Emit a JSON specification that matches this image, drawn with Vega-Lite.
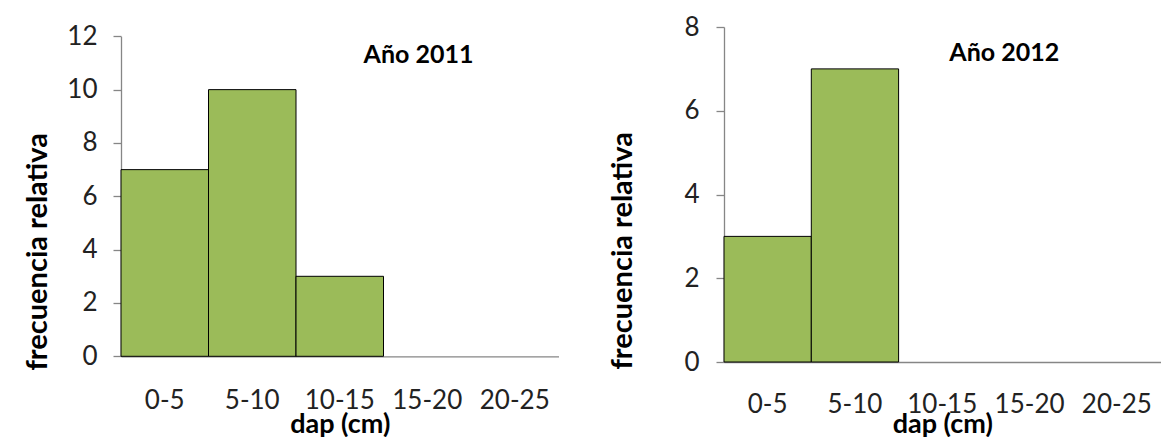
{
  "$schema": "https://vega.github.io/schema/vega-lite/v6.json",
  "background": "white",
  "padding": {"left": 23, "top": 14, "right": 5, "bottom": 0},
  "datasets": {
    "y2011": [
      {"dap": "0-5", "frecuencia": 7},
      {"dap": "5-10", "frecuencia": 10},
      {"dap": "10-15", "frecuencia": 3},
      {"dap": "15-20", "frecuencia": 0},
      {"dap": "20-25", "frecuencia": 0}
    ],
    "y2012": [
      {"dap": "0-5", "frecuencia": 3},
      {"dap": "5-10", "frecuencia": 7},
      {"dap": "10-15", "frecuencia": 0},
      {"dap": "15-20", "frecuencia": 0},
      {"dap": "20-25", "frecuencia": 0}
    ]
  },
  "config": {
    "font": "Lato",
    "view": {"stroke": null},
    "axis": {
      "grid": false,
      "domainColor": "#868686",
      "domainWidth": 1.3,
      "tickColor": "#868686",
      "tickWidth": 1.3,
      "labelColor": "#222222",
      "labelFont": "Lato",
      "labelFontSize": 26,
      "titleColor": "#000000",
      "titleFont": "Lato",
      "titleFontWeight": "bold"
    },
    "axisX": {"titleFontSize": 27},
    "axisY": {"titleFontSize": 29},
    "concat": {"spacing": 49}
  },
  "align": "none",
  "hconcat": [
    {
      "width": 437.5,
      "height": 329.3,
      "layer": [
        {
          "data": {"name": "y2011"},
          "mark": {"type": "bar", "fill": "#9BBB59", "stroke": "#000000", "strokeWidth": 1},
          "encoding": {
            "x": {
              "field": "dap",
              "type": "nominal",
              "sort": null,
              "scale": {"domain": ["0-5", "5-10", "10-15", "15-20", "20-25"], "paddingInner": 0, "paddingOuter": 0},
              "axis": {
                "title": "dap (cm)",
                "labelAngle": 0,
                "ticks": false,
                "tickSize": 0,
                "labelPadding": 52,
                "labelBaseline": "alphabetic",
                "titleY": 75.7,
                "titleBaseline": "alphabetic"
              }
            },
            "y": {
              "field": "frecuencia",
              "type": "quantitative",
              "scale": {"domain": [0, 12], "range": [329.3, 9.3], "nice": false},
              "axis": {
                "values": [0, 2, 4, 6, 8, 10, 12],
                "title": "frecuencia relativa",
                "tickSize": 8,
                "labelPadding": 16,
                "titleAngle": 270,
                "titleAlign": "center",
                "titleBaseline": "alphabetic",
                "titleX": -74.7,
                "titleY": 224.3
              }
            },
            "strokeOpacity": {"condition": {"test": "datum.frecuencia > 0", "value": 1}, "value": 0}
          }
        },
        {
          "data": {"values": [{"titulo": "Año 2011"}]},
          "mark": {"type": "text", "fontWeight": "bold", "fontSize": 25, "align": "center", "baseline": "alphabetic", "color": "#000000"},
          "encoding": {
            "text": {"field": "titulo"},
            "x": {"datum": "15-20", "bandPosition": 0.4},
            "y": {"datum": 11}
          }
        }
      ]
    },
    {
      "width": 436.5,
      "height": 335,
      "layer": [
        {
          "data": {"name": "y2012"},
          "mark": {"type": "bar", "fill": "#9BBB59", "stroke": "#000000", "strokeWidth": 1},
          "encoding": {
            "x": {
              "field": "dap",
              "type": "nominal",
              "sort": null,
              "scale": {"domain": ["0-5", "5-10", "10-15", "15-20", "20-25"], "paddingInner": 0, "paddingOuter": 0},
              "axis": {
                "title": "dap (cm)",
                "labelAngle": 0,
                "ticks": false,
                "tickSize": 0,
                "labelPadding": 50,
                "labelBaseline": "alphabetic",
                "titleY": 70,
                "titleBaseline": "alphabetic"
              }
            },
            "y": {
              "field": "frecuencia",
              "type": "quantitative",
              "scale": {"domain": [0, 8], "nice": false},
              "axis": {
                "values": [0, 2, 4, 6, 8],
                "title": "frecuencia relativa",
                "tickSize": 8,
                "labelPadding": 17,
                "titleAngle": 270,
                "titleAlign": "center",
                "titleBaseline": "alphabetic",
                "titleX": -93,
                "titleY": 223.3
              }
            },
            "strokeOpacity": {"condition": {"test": "datum.frecuencia > 0", "value": 1}, "value": 0}
          }
        },
        {
          "data": {"values": [{"titulo": "Año 2012"}]},
          "mark": {"type": "text", "fontWeight": "bold", "fontSize": 25, "align": "center", "baseline": "alphabetic", "color": "#000000"},
          "encoding": {
            "text": {"field": "titulo"},
            "x": {"datum": "15-20", "bandPosition": 0.21},
            "y": {"datum": 7.2}
          }
        }
      ]
    }
  ]
}
